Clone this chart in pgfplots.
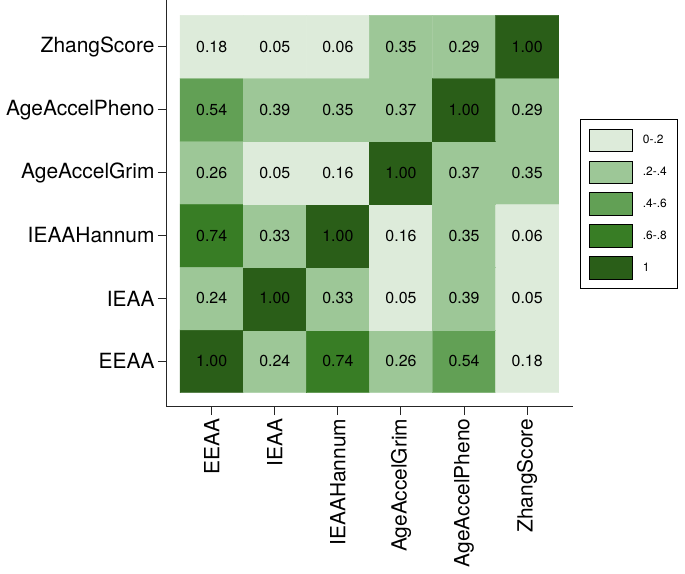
\documentclass[border=0pt]{standalone}
\usepackage{pgfplots}
\pgfplotsset{compat=1.18}
\usepackage{pgfplotstable}
\usepackage{fontspec}
\setmainfont{TeX Gyre Heros}
\usetikzlibrary{calc}
\definecolor{g0}{RGB}{221,235,218}
\definecolor{g1}{RGB}{157,199,151}
\definecolor{g2}{RGB}{98,160,85}
\definecolor{g3}{RGB}{56,125,37}
\definecolor{g4}{RGB}{42,94,24}
\pgfplotstableread{
x y c t
0 0 4 1.00
1 0 1 0.24
2 0 3 0.74
3 0 1 0.26
4 0 2 0.54
5 0 0 0.18
0 1 1 0.24
1 1 4 1.00
2 1 1 0.33
3 1 0 0.05
4 1 1 0.39
5 1 0 0.05
0 2 3 0.74
1 2 1 0.33
2 2 4 1.00
3 2 0 0.16
4 2 1 0.35
5 2 0 0.06
0 3 1 0.26
1 3 0 0.05
2 3 0 0.16
3 3 4 1.00
4 3 1 0.37
5 3 1 0.35
0 4 2 0.54
1 4 1 0.39
2 4 1 0.35
3 4 1 0.37
4 4 4 1.00
5 4 1 0.29
0 5 0 0.18
1 5 0 0.05
2 5 0 0.06
3 5 1 0.35
4 5 1 0.29
5 5 4 1.00
}\corr
\begin{document}
\begin{tikzpicture}
\begin{axis}[
  scale only axis,
  width=406.2bp, height=406.7bp,
  xmin=-0.716, xmax=5.721,
  ymin=-0.722, ymax=5.744,
  axis x line=bottom, axis y line=left,
  axis line style={-, line width=1bp, black!85},
  tick align=outside,
  major tick length=8.5bp,
  tick style={line width=1bp, black!85},
  xtick={0,1,2,3,4,5}, ytick={0,1,2,3,4,5},
  xticklabels={EEAA,IEAA,IEAAHannum,AgeAccelGrim,AgeAccelPheno,ZhangScore},
  yticklabels={EEAA,IEAA,IEAAHannum,AgeAccelGrim,AgeAccelPheno,ZhangScore},
  tick label style={font=\fontsize{21}{25}\selectfont},
  xticklabel style={rotate=90, anchor=east},
  colormap={greenclass}{rgb255=(221,235,218) rgb255=(157,199,151) rgb255=(98,160,85) rgb255=(56,125,37) rgb255=(42,94,24)},
  colormap access=direct,
  legend style={at={(axis description cs:1.018,0.7067)}, anchor=north west,
    draw=black, line width=0.8bp, inner xsep=9bp, inner ysep=9bp,
    row sep=8.8bp, font=\fontsize{12}{14}\selectfont,
    /tikz/every odd column/.append style={column sep=8bp}},
  legend cell align=left,
  legend image code/.code={\fill[#1] (0bp,-11.15bp) rectangle (42.7bp,11.15bp);},
]
\addplot[matrix plot*, mesh/cols=6, point meta=\thisrow{c}, forget plot] table[x=x,y=y] {\corr};
\addplot[only marks, mark=none, point meta=explicit symbolic,
  nodes near coords, nodes near coords align=center,
  every node near coord/.append style={anchor=center, font=\fontsize{16}{19}\selectfont, black},
  forget plot] table[x=x,y=y,meta=t] {\corr};
\addlegendimage{fill=g0}\addlegendentry{0-.2}
\addlegendimage{fill=g1}\addlegendentry{.2-.4}
\addlegendimage{fill=g2}\addlegendentry{.4-.6}
\addlegendimage{fill=g3}\addlegendentry{.6-.8}
\addlegendimage{fill=g4}\addlegendentry{1}
\end{axis}
\pgfresetboundingbox
\path ($(current axis.south west)+(-166.5bp,-167.3bp)$) rectangle ($(current axis.south west)+(518.5bp,406.7bp)$);
\end{tikzpicture}
\end{document}
